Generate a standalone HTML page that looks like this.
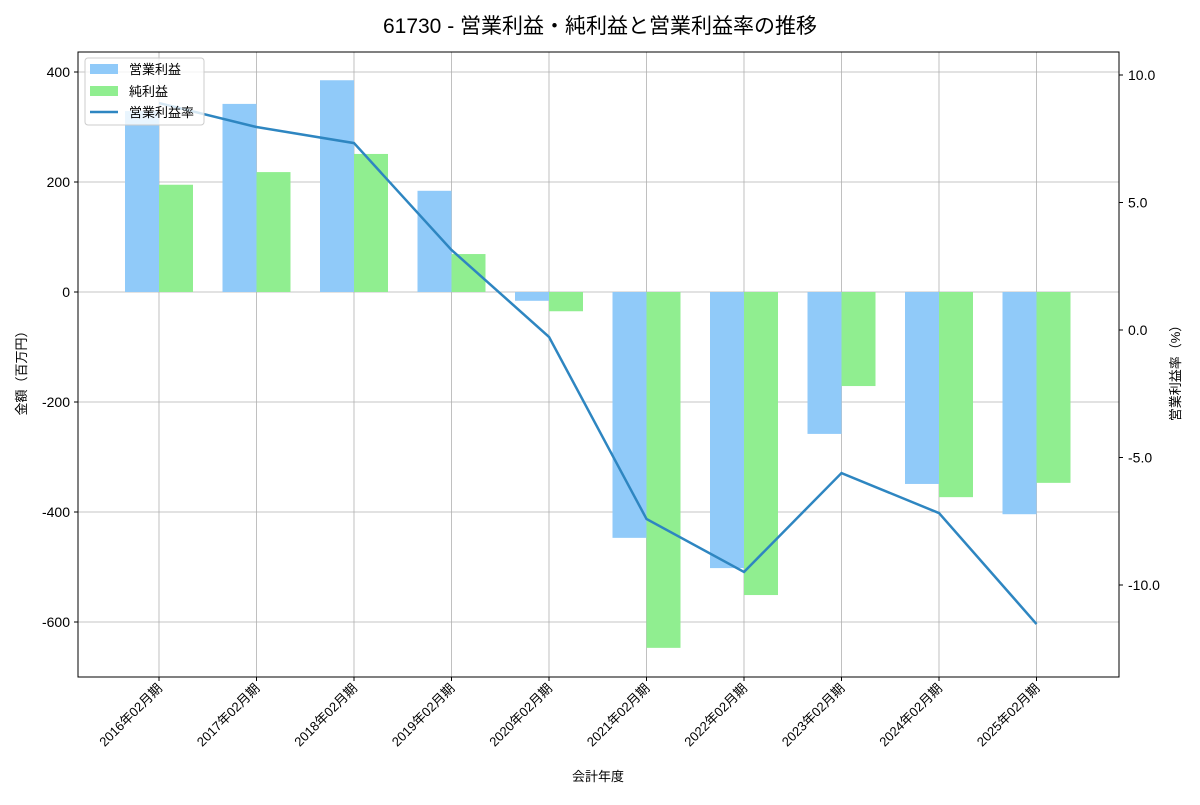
<!DOCTYPE html>
<html><head><meta charset="utf-8"><style>
body{margin:0;background:#fff;font-family:"Liberation Sans","Noto Sans CJK JP",sans-serif;}
text{font-family:"Liberation Sans","Noto Sans CJK JP",sans-serif;}
</style></head><body>
<svg id="chart" width="1200" height="800" xmlns="http://www.w3.org/2000/svg">
<text x="600" y="33" text-anchor="middle" font-size="21">61730 - 営業利益・純利益と営業利益率の推移</text>
<g id="grid"></g><g id="bars"></g><g id="line"></g><g id="axes"></g>
<text x="598" y="781" text-anchor="middle" font-size="13">会計年度</text>
<text transform="translate(26,370) rotate(-90)" text-anchor="middle" font-size="13">金額（百万円）</text>
<text transform="translate(1180,370) rotate(-90)" text-anchor="middle" font-size="13">営業利益率（%）</text>
<g>
<rect x="85" y="58" width="119" height="67" fill="#fff" fill-opacity="0.8" stroke="#ccc" rx="3"/>
<rect x="90" y="64" width="28" height="10" fill="#90caf9"/><text x="129" y="74" font-size="13">営業利益</text>
<rect x="90" y="86" width="28" height="10" fill="#90ee90"/><text x="129" y="96" font-size="13">純利益</text>
<line x1="90" y1="112" x2="118" y2="112" stroke="#2e86c1" stroke-width="2.5"/><text x="129" y="117" font-size="13">営業利益率</text>
</g>
</svg>
<script>
const categories=["2016年02月期","2017年02月期","2018年02月期","2019年02月期","2020年02月期","2021年02月期","2022年02月期","2023年02月期","2024年02月期","2025年02月期"];
const opProfit=[329,342,385,184,-16,-447,-502,-258,-349,-404];
const netProfit=[195,218,251,69,-35,-647,-551,-171,-373,-347];
const opMargin=[8.9,7.96,7.33,3.14,-0.27,-7.41,-9.49,-5.61,-7.18,-11.53];
const leftTicks=[400,200,0,-200,-400,-600];
const rightTicks=[10,5,0,-5,-10];
const NS="http://www.w3.org/2000/svg";
const L=78,R=1119,T=52,B=677;
const yL=v=>292-v*0.55;
const yR=v=>330-v*25.5;
const xC=i=>159+i*97.5;
const bw=34;
function mk(tag,attrs,parent,txt){const e=document.createElementNS(NS,tag);for(const k in attrs)e.setAttribute(k,attrs[k]);if(txt!==undefined)e.textContent=txt;document.getElementById(parent).appendChild(e);return e;}
leftTicks.forEach(t=>{const y=yL(t);
 const g=mk('line',{x1:L,x2:R,y1:y,y2:y,stroke:'#b0b0b0','stroke-width':0.8},'grid');
 
 mk('line',{x1:L-4,x2:L,y1:y,y2:y,stroke:'#000'},'axes');
 const tx=mk('text',{x:L-8,y:y+5,'text-anchor':'end','font-size':14},'axes',String(t));
 });
rightTicks.forEach(t=>{const y=yR(t);
 mk('line',{x1:R,x2:R+4,y1:y,y2:y,stroke:'#000'},'axes');
 const tx=mk('text',{x:R+9,y:y+5,'font-size':14},'axes',t.toFixed(1));
 });
categories.forEach((c,i)=>{const x=xC(i);
 const g=mk('line',{x1:x,x2:x,y1:T,y2:B,stroke:'#b0b0b0','stroke-width':0.8},'grid');
 
 mk('line',{x1:x,x2:x,y1:B,y2:B+4,stroke:'#000'},'axes');
 const tx=mk('text',{transform:`translate(${x+4},${B+12}) rotate(-45)`,'text-anchor':'end','font-size':13},'axes',c);
 
 const a=opProfit[i],b=netProfit[i];
 const r1=mk('rect',{x:x-bw,y:Math.min(yL(a),yL(0)),width:bw,height:Math.abs(yL(a)-yL(0)),fill:'#90caf9'},'bars');
 
 const r2=mk('rect',{x:x,y:Math.min(yL(b),yL(0)),width:bw,height:Math.abs(yL(b)-yL(0)),fill:'#90ee90'},'bars');
 });
const pl=mk('polyline',{points:opMargin.map((v,i)=>xC(i)+','+yR(v)).join(' '),fill:'none',stroke:'#2e86c1','stroke-width':2.5},'line');

const fr=mk('rect',{x:L,y:T,width:R-L,height:B-T,fill:'none',stroke:'#000','stroke-width':1},'axes');

</script>
</body></html>
